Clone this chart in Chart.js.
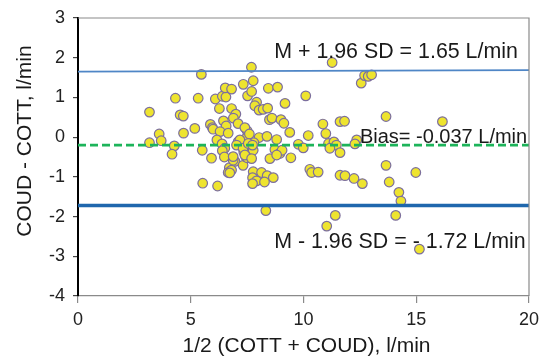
<!DOCTYPE html>
<html><head><meta charset="utf-8">
<script src="https://cdn.jsdelivr.net/npm/chart.js@4.4.1/dist/chart.umd.min.js"></script>
<style>html,body{margin:0;padding:0;background:#fff}#wrap{width:540px;height:358px}</style>
</head><body><div id="wrap"><canvas id="c" width="540" height="358"></canvas></div>
<script>
// ---- data ----
const meanX = [5.47,7.69,11.27,4.32,5.33,6.09,6.27,6.40,6.56,6.53,6.81,7.33,7.52,7.77,7.70,8.44,8.85,10.10,9.18,7.92,7.84,8.03,8.21,8.41,6.81,7.00,6.89,7.10,4.53,4.67,3.17,5.18,5.87,5.96,5.99,6.45,6.57,6.30,6.66,4.68,3.60,3.69,3.17,4.27,4.17,5.51,5.92,6.16,6.39,6.51,6.40,6.49,7.10,7.30,7.44,7.35,7.50,7.40,7.47,7.18,6.96,6.71,6.66,7.32,5.53,6.19,7.44,8.49,8.60,9.00,9.13,9.39,7.60,10.86,10.99,11.62,11.82,13.66,12.56,12.71,12.87,13.02,10.21,8.03,8.38,8.81,9.77,11.11,11.35,11.46,11.17,11.62,12.36,12.28,7.03,7.77,7.80,8.51,8.73,8.95,9.05,9.44,6.88,7.50,10.28,10.36,10.65,13.66,16.16,13.80,14.23,14.32,14.09,8.33,11.41,11.03,11.62,11.84,12.24,12.61,7.77,8.14,7.74,8.39,8.66,7.92,8.27,7.74,6.81,6.73,7.32,7.55,7.40,6.88,14.98,15.14,7.74,9.99,8.81,7.70];
const diffY = [1.58,1.76,1.88,0.98,0.98,0.96,0.72,1.03,1.01,1.24,1.21,1.33,1.04,1.42,1.15,1.23,1.26,1.04,0.85,0.88,0.79,0.68,0.70,0.73,0.72,0.58,0.48,0.34,0.56,0.53,0.63,0.22,0.32,0.24,0.20,0.41,0.28,0.14,0.10,0.10,0.08,-0.09,-0.14,-0.22,-0.43,-0.33,-0.53,-0.07,-0.17,-0.28,-0.34,-0.50,-0.12,-0.22,-0.30,-0.37,0.16,0.24,-0.02,-0.07,-0.61,-0.77,-0.89,-0.71,-1.16,-1.23,-0.49,0.44,0.48,0.44,0.35,0.12,0.08,0.33,0.09,0.39,0.40,0.52,1.36,1.55,1.53,1.57,0.04,-0.01,0.02,-0.06,-0.18,-0.16,-0.12,-0.20,-0.28,-0.39,-0.07,-0.17,-0.20,-0.33,-0.14,-0.54,-0.31,-0.41,-0.33,-0.52,-0.58,-0.52,-0.81,-0.89,-0.88,-0.71,0.39,-1.13,-1.39,-1.61,-1.97,-1.85,-1.97,-2.24,-0.96,-0.97,-1.04,-1.17,-0.87,-0.89,-1.02,-0.97,-1.02,-1.10,-1.13,-1.17,-0.83,-0.90,-0.28,-0.16,-0.45,-0.49,-0.89,-2.82,-0.20,-0.27,-0.45,-0.54];
const lineX = [0, 20];
const upperLimit = [1.65, 1.69];
const biasLine = [-0.2, -0.2];
const lowerLimit = [-1.72, -1.72];
const xTicks = [0, 5, 10, 15, 20];
const yTicks = [-4, -3, -2, -1, 0, 1, 2, 3];
const annotationTexts = ['M + 1.96 SD = 1.65 L/min', 'Bias= -0.037 L/min', 'M - 1.96 SD = - 1.72 L/min'];
const xTitle = '1/2 (COTT + COUD), l/min';
const yTitle = 'COUD - COTT, l/min';

// ---- chart ----
const FONT = '"Liberation Sans", Arial, Helvetica, sans-serif';
const annPos = [{x: 8.7, y: 1.99, size: 21.4}, {x: 12.5, y: -0.14, size: 20}, {x: 8.7, y: -2.78, size: 21.4}];
const pts = meanX.map((v, i) => ({x: v, y: diffY[i]}));
const mk = (arr) => lineX.map((v, i) => ({x: v, y: arr[i]}));

const framePlugin = {
  id: 'frame',
  afterDatasetsDraw(chart) {
    const {ctx, chartArea: a, scales} = chart;
    ctx.save();
    ctx.strokeStyle = '#8a8a8a';
    ctx.lineWidth = 1.2;
    ctx.beginPath();
    ctx.moveTo(a.left, a.top); ctx.lineTo(a.right, a.top); ctx.lineTo(a.right, a.bottom);
    ctx.stroke();
    // annotations
    ctx.fillStyle = '#1a1a1a';
    ctx.textBaseline = 'alphabetic';
    ctx.textAlign = 'left';
    annotationTexts.forEach((t, i) => {
      const p = annPos[i];
      ctx.font = p.size + 'px ' + FONT;
      ctx.fillText(t, scales.x.getPixelForValue(p.x), scales.y.getPixelForValue(p.y));
    });
    // axis titles
    ctx.font = '21px ' + FONT;
    ctx.textAlign = 'center';
    ctx.fillText(xTitle, 306.5, 351.5);
    ctx.translate(31, 141);
    ctx.rotate(-Math.PI / 2);
    ctx.fillText(yTitle, 0, 0);
    ctx.restore();
  }
};

new Chart(document.getElementById('c'), {
  type: 'scatter',
  data: {
    datasets: [
      {type: 'line', data: mk(upperLimit), borderColor: '#4f86c6', borderWidth: 1.8, pointRadius: 0, fill: false, order: 1},
      {type: 'line', data: mk(biasLine), borderColor: '#1db45a', borderWidth: 2.6, borderDash: [8, 4], pointRadius: 0, fill: false, order: 1},
      {type: 'line', data: mk(lowerLimit), borderColor: '#1f67ad', borderWidth: 3.4, pointRadius: 0, fill: false, order: 1},
      {data: pts, backgroundColor: '#eee42f', borderColor: '#7c6f9e', borderWidth: 1.2, pointRadius: 4.8, order: 2}
    ]
  },
  options: {
    responsive: false,
    animation: false,
    devicePixelRatio: 1,
    layout: {padding: {top: 18, right: 11, left: 0, bottom: 0}},
    plugins: {legend: {display: false}, tooltip: {enabled: false}, title: {display: false}},
    scales: {
      x: {
        type: 'linear', min: 0, max: 20,
        afterBuildTicks: s => { s.ticks = xTicks.map(v => ({value: v})); },
        afterFit: s => { s.height = 62; s.paddingLeft = 0; s.paddingRight = 0; },
        ticks: {font: {family: FONT, size: 18}, color: '#222', padding: 6, maxRotation: 0},
        grid: {drawOnChartArea: false, tickLength: 7, color: '#8a8a8a', lineWidth: 1.2},
        border: {color: '#8a8a8a', width: 1.2}
      },
      y: {
        min: -4, max: 3,
        afterBuildTicks: s => { s.ticks = yTicks.map(v => ({value: v})); },
        afterFit: s => { s.width = 78; s.paddingTop = 0; s.paddingBottom = 0; },
        ticks: {font: {family: FONT, size: 18}, color: '#222', padding: 8},
        grid: {drawOnChartArea: false, tickLength: 5, color: '#444', lineWidth: 1.2},
        border: {color: '#000', width: 2}
      }
    }
  },
  plugins: [framePlugin]
});
</script>
</body></html>
